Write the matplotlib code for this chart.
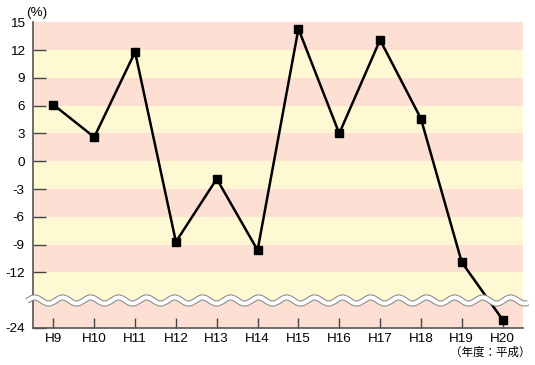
import numpy as np
import matplotlib
matplotlib.use("Agg")
import matplotlib.pyplot as plt

# data (fiscal year, Heisei) -- % change
years = ["H9", "H10", "H11", "H12", "H13", "H14", "H15", "H16", "H17", "H18", "H19", "H20"]
values = [6.1, 2.6, 11.8, -8.7, -1.9, -9.6, 14.3, 3.0, 13.1, 4.6, -10.9, -21.3]
ytick_vals = [15, 12, 9, 6, 3, 0, -3, -6, -9, -12, -24]
band_edges = [15, 12, 9, 6, 3, 0, -3, -6, -9, -12, -15, -24]

PINK, YELLOW = "#fde0d3", "#fef9d3"
BREAK = -15

def fwd(v):
    v = np.asarray(v, dtype=float)
    return np.where(v >= BREAK, v, BREAK + (v - BREAK) / 3.0)

def inv(u):
    u = np.asarray(u, dtype=float)
    return np.where(u >= BREAK, u, BREAK + (u - BREAK) * 3.0)

plt.rcParams["font.family"] = ["Liberation Sans", "DejaVu Sans"]
fig = plt.figure(figsize=(5.35, 3.65), dpi=100)
ax = fig.add_axes([33/535, 1-328/365, (523-33)/535, (328-22.3)/365])
ax.set_yscale("function", functions=(fwd, inv))
x = np.arange(len(years))

# striped background
for i in range(len(band_edges)-1):
    ax.axhspan(band_edges[i+1], band_edges[i], color=PINK if i % 2 == 0 else YELLOW, lw=0, zorder=0)

ax.plot(x, values, color="black", lw=1.8, marker="s", ms=5.5, zorder=3, clip_on=False)

ax.set_xlim(-0.5, len(years)-0.5)
ax.set_ylim(-24, 15)
ax.set_xticks(x)
ax.set_xticklabels(years, fontsize=9.7)
ax.set_yticks(ytick_vals)
ax.set_yticklabels([str(v) for v in ytick_vals], fontsize=9.7)
ax.tick_params(axis="y", direction="in", length=9, width=1, color="#444444", pad=6)
ax.tick_params(axis="x", direction="in", length=7, width=1, color="#444444", pad=3.5)
ax.yaxis.get_major_ticks()[0].tick1line.set_visible(False)
for s in ["top", "right"]:
    ax.spines[s].set_visible(False)
for s in ["left", "bottom"]:
    ax.spines[s].set_color("#555555")
    ax.spines[s].set_linewidth(1.2)

# axis break wave
wx = np.linspace(-0.012, 1.01, 600)
wy = (328-300.5)/(328-22.3) + 0.010*np.sin(2*np.pi*(wx*490)/28 + 1.2)
ax.plot(wx, wy, transform=ax.transAxes, color="#888888", lw=4.4, clip_on=False, zorder=4,
        solid_capstyle="butt")
ax.plot(wx, wy, transform=ax.transAxes, color="white", lw=2.9, clip_on=False, zorder=5,
        solid_capstyle="butt")

fig.text(26/535, 1-13/365, "(%)", fontsize=9.7, va="center", ha="left")
fig.text(490/535, 1-352/365, "（年度：平成）", fontsize=8.3, va="center", ha="center",
         family=["Noto Sans CJK JP", "DejaVu Sans"])

fig.savefig("out.png", dpi=100)
